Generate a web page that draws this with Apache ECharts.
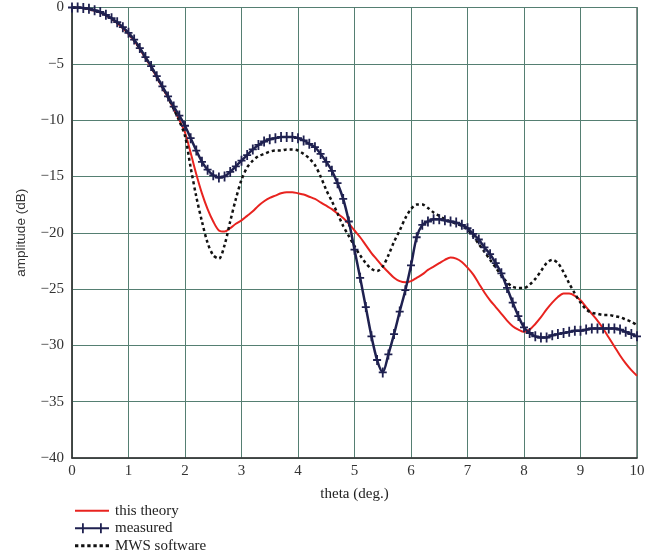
<!DOCTYPE html>
<html>
<head>
<meta charset="utf-8">
<script src="https://cdn.jsdelivr.net/npm/echarts@6/dist/echarts.min.js"></script>
<style>html,body{margin:0;padding:0;background:#fff;}#c{width:659px;height:560px;}</style>
</head>
<body>
<div id="c"></div>
<script>
// theta grid (deg.), step 0.1 from 0 to 10
var theta = [];
for (var i = 0; i <= 100; i++) theta.push(+(i / 10).toFixed(1));

var xTicks = ['0','1','2','3','4','5','6','7','8','9','10'];
var yTicks = ['0','−5','−10','−15','−20','−25','−30','−35','−40'];

var thisTheory = [
  0, 0, -0.05, -0.15, -0.3, -0.45, -0.7, -1.0, -1.4, -1.85,
  -2.35, -2.95, -3.7, -4.5, -5.3, -6.2, -7.1, -8.0, -9.0, -10.0,
  -11.1, -12.9, -14.8, -16.5, -17.9, -19.0, -19.8, -19.9, -19.6, -19.2,
  -18.9, -18.5, -18.1, -17.6, -17.2, -16.9, -16.7, -16.5, -16.4, -16.4,
  -16.5, -16.6, -16.8, -17.0, -17.3, -17.6, -17.9, -18.3, -18.7, -19.2,
  -19.8, -20.4, -21.1, -21.8, -22.4, -23.0, -23.5, -24.0, -24.3, -24.4,
  -24.3, -24.0, -23.7, -23.3, -23.0, -22.7, -22.4, -22.2, -22.3, -22.6,
  -23.1, -23.7, -24.5, -25.3, -26.0, -26.6, -27.2, -27.8, -28.3, -28.6,
  -28.8, -28.6, -28.1, -27.5, -26.8, -26.2, -25.7, -25.4, -25.4, -25.6,
  -26.0, -26.6, -27.2, -27.8, -28.5, -29.3, -30.1, -30.9, -31.6, -32.2,
  -32.7
];

var measured = [
  0, 0, -0.05, -0.1, -0.25, -0.4, -0.65, -0.95, -1.3, -1.75,
  -2.25, -2.85, -3.6, -4.4, -5.2, -6.1, -7.0, -7.9, -8.8, -9.6,
  -10.5, -11.6, -12.7, -13.7, -14.4, -14.9, -15.1, -15.0, -14.6, -14.1,
  -13.6, -13.1, -12.6, -12.2, -11.9, -11.7, -11.6, -11.5, -11.5, -11.5,
  -11.6, -11.8, -12.1, -12.4, -13.0, -13.7, -14.5, -15.6, -17.0, -19.0,
  -21.5, -24.0, -26.6, -29.2, -31.3, -32.4, -30.8, -29.0, -27.0, -25.1,
  -22.9, -20.4, -19.3, -19.0, -18.8, -18.8, -18.9, -19.0, -19.1, -19.3,
  -19.6, -20.1, -20.6, -21.3, -21.9, -22.7, -23.6, -24.9, -26.2, -27.4,
  -28.4, -28.9, -29.2, -29.3, -29.3, -29.1, -29.0, -28.9, -28.8, -28.7,
  -28.7, -28.6, -28.5, -28.5, -28.5, -28.5, -28.5, -28.6, -28.8, -29.0,
  -29.2
];

var mws = [
  0, 0, -0.05, -0.12, -0.28, -0.42, -0.68, -0.98, -1.35, -1.8,
  -2.3, -2.9, -3.65, -4.45, -5.25, -6.15, -7.05, -8.0, -9.0, -10.1,
  -11.4, -14.2, -16.8, -19.0, -20.9, -22.0, -22.3, -21.1, -19.0, -17.0,
  -15.3, -14.2, -13.6, -13.2, -13.0, -12.8, -12.7, -12.7, -12.6, -12.6,
  -12.7, -13.0, -13.4, -14.0, -15.0, -16.2, -17.2, -18.3, -19.4, -20.3,
  -21.2, -22.0, -22.7, -23.2, -23.4, -23.0, -22.0, -20.8, -19.8, -18.7,
  -17.9, -17.5, -17.5, -17.8, -18.2, -18.5, -18.8, -19.0, -19.2, -19.4,
  -19.7, -20.3, -21.0, -21.7, -22.4, -23.1, -23.8, -24.4, -24.8, -24.9,
  -24.9, -24.6, -24.1, -23.4, -22.7, -22.4, -22.7, -23.5, -24.5, -25.4,
  -26.2, -26.8, -27.1, -27.2, -27.3, -27.3, -27.4, -27.5, -27.7, -27.9,
  -28.2
];

function pairs(vals) { return theta.map(function (t, i) { return [t, vals[i]]; }); }

var serif = '"Liberation Serif", "DejaVu Serif", serif';
var gridColor = '#557f72';
var plusSym = 'path://M-0.9,-5h1.8v10h-1.8z M-4,-0.9h8v1.8h-8z';

var iconLine = 'path://M0,0h34v2.2h-34z';
var iconMeasured = 'path://M0,3.9h34v2.2h-34z M7,0h1.8v10h-1.8z M25,0h1.8v10h-1.8z';
var iconDots = 'path://M0,0h3v2.6h-3z M5.5,0h3v2.6h-3z M11,0h3v2.6h-3z M16.5,0h3v2.6h-3z M22,0h3v2.6h-3z M27.5,0h3v2.6h-3z';

var chart = echarts.init(document.getElementById('c'), null, { renderer: 'canvas' });
chart.setOption({
  animation: false,
  backgroundColor: '#fff',
  grid: { left: 72, right: 22, top: 7, bottom: 102, show: true, borderColor: '#444', borderWidth: 1.2, containLabel: false },
  xAxis: {
    type: 'value', min: 0, max: 10, interval: 1,
    name: 'theta (deg.)', nameLocation: 'middle', nameGap: 29,
    nameTextStyle: { fontFamily: serif, fontSize: 15, color: '#222' },
    axisLine: { show: true, onZero: false, lineStyle: { color: '#333', width: 1.5 } },
    axisTick: { show: false },
    axisLabel: { fontFamily: serif, fontSize: 15, color: '#333', margin: 6,
      formatter: function (v) { return xTicks[Math.round(v)]; } },
    splitLine: { show: true, lineStyle: { color: gridColor, width: 1 } }
  },
  yAxis: {
    type: 'value', min: -40, max: 0, interval: 5,
    name: 'amplitude (dB)', nameLocation: 'middle', nameGap: 44, nameRotate: 90,
    nameTextStyle: { fontFamily: '"Liberation Sans", Arial, sans-serif', fontSize: 13.5, color: '#333' },
    axisLine: { show: true, onZero: false, lineStyle: { color: '#333', width: 1.5 } },
    axisTick: { show: false },
    axisLabel: { fontFamily: serif, fontSize: 15, color: '#333', margin: 8,
      formatter: function (v) { return yTicks[Math.round(-v / 5)]; } },
    splitLine: { show: true, lineStyle: { color: gridColor, width: 1 } }
  },
  legend: {
    orient: 'vertical', left: 70, top: 497, itemWidth: 34, itemHeight: 10, itemGap: 0,
    height: 62, symbolKeepAspect: true,
    textStyle: { fontFamily: serif, fontSize: 15, lineHeight: 17.5, color: '#222', padding: [0, 0, 0, 1] },
    data: [
      { name: 'this theory', icon: iconLine },
      { name: 'measured', icon: iconMeasured },
      { name: 'MWS software', icon: iconDots }
    ]
  },
  series: [
    {
      name: 'this theory', type: 'line', data: pairs(thisTheory), smooth: 0.3,
      showSymbol: false, symbol: 'none', z: 2,
      lineStyle: { color: '#e8231f', width: 2 }, itemStyle: { color: '#e8231f' }
    },
    {
      name: 'MWS software', type: 'line', data: pairs(mws), smooth: 0.3,
      showSymbol: false, symbol: 'none', z: 3,
      lineStyle: { color: '#111', width: 2.5, type: [3, 3] }, itemStyle: { color: '#111' }
    },
    {
      name: 'measured', type: 'line', data: pairs(measured), smooth: 0.3, z: 4,
      symbol: plusSym, symbolSize: [8, 10],
      showSymbol: true, showAllSymbol: true,
      lineStyle: { color: '#1f2150', width: 2.5 }, itemStyle: { color: '#1f2150' }
    }
  ]
});
</script>
</body>
</html>
